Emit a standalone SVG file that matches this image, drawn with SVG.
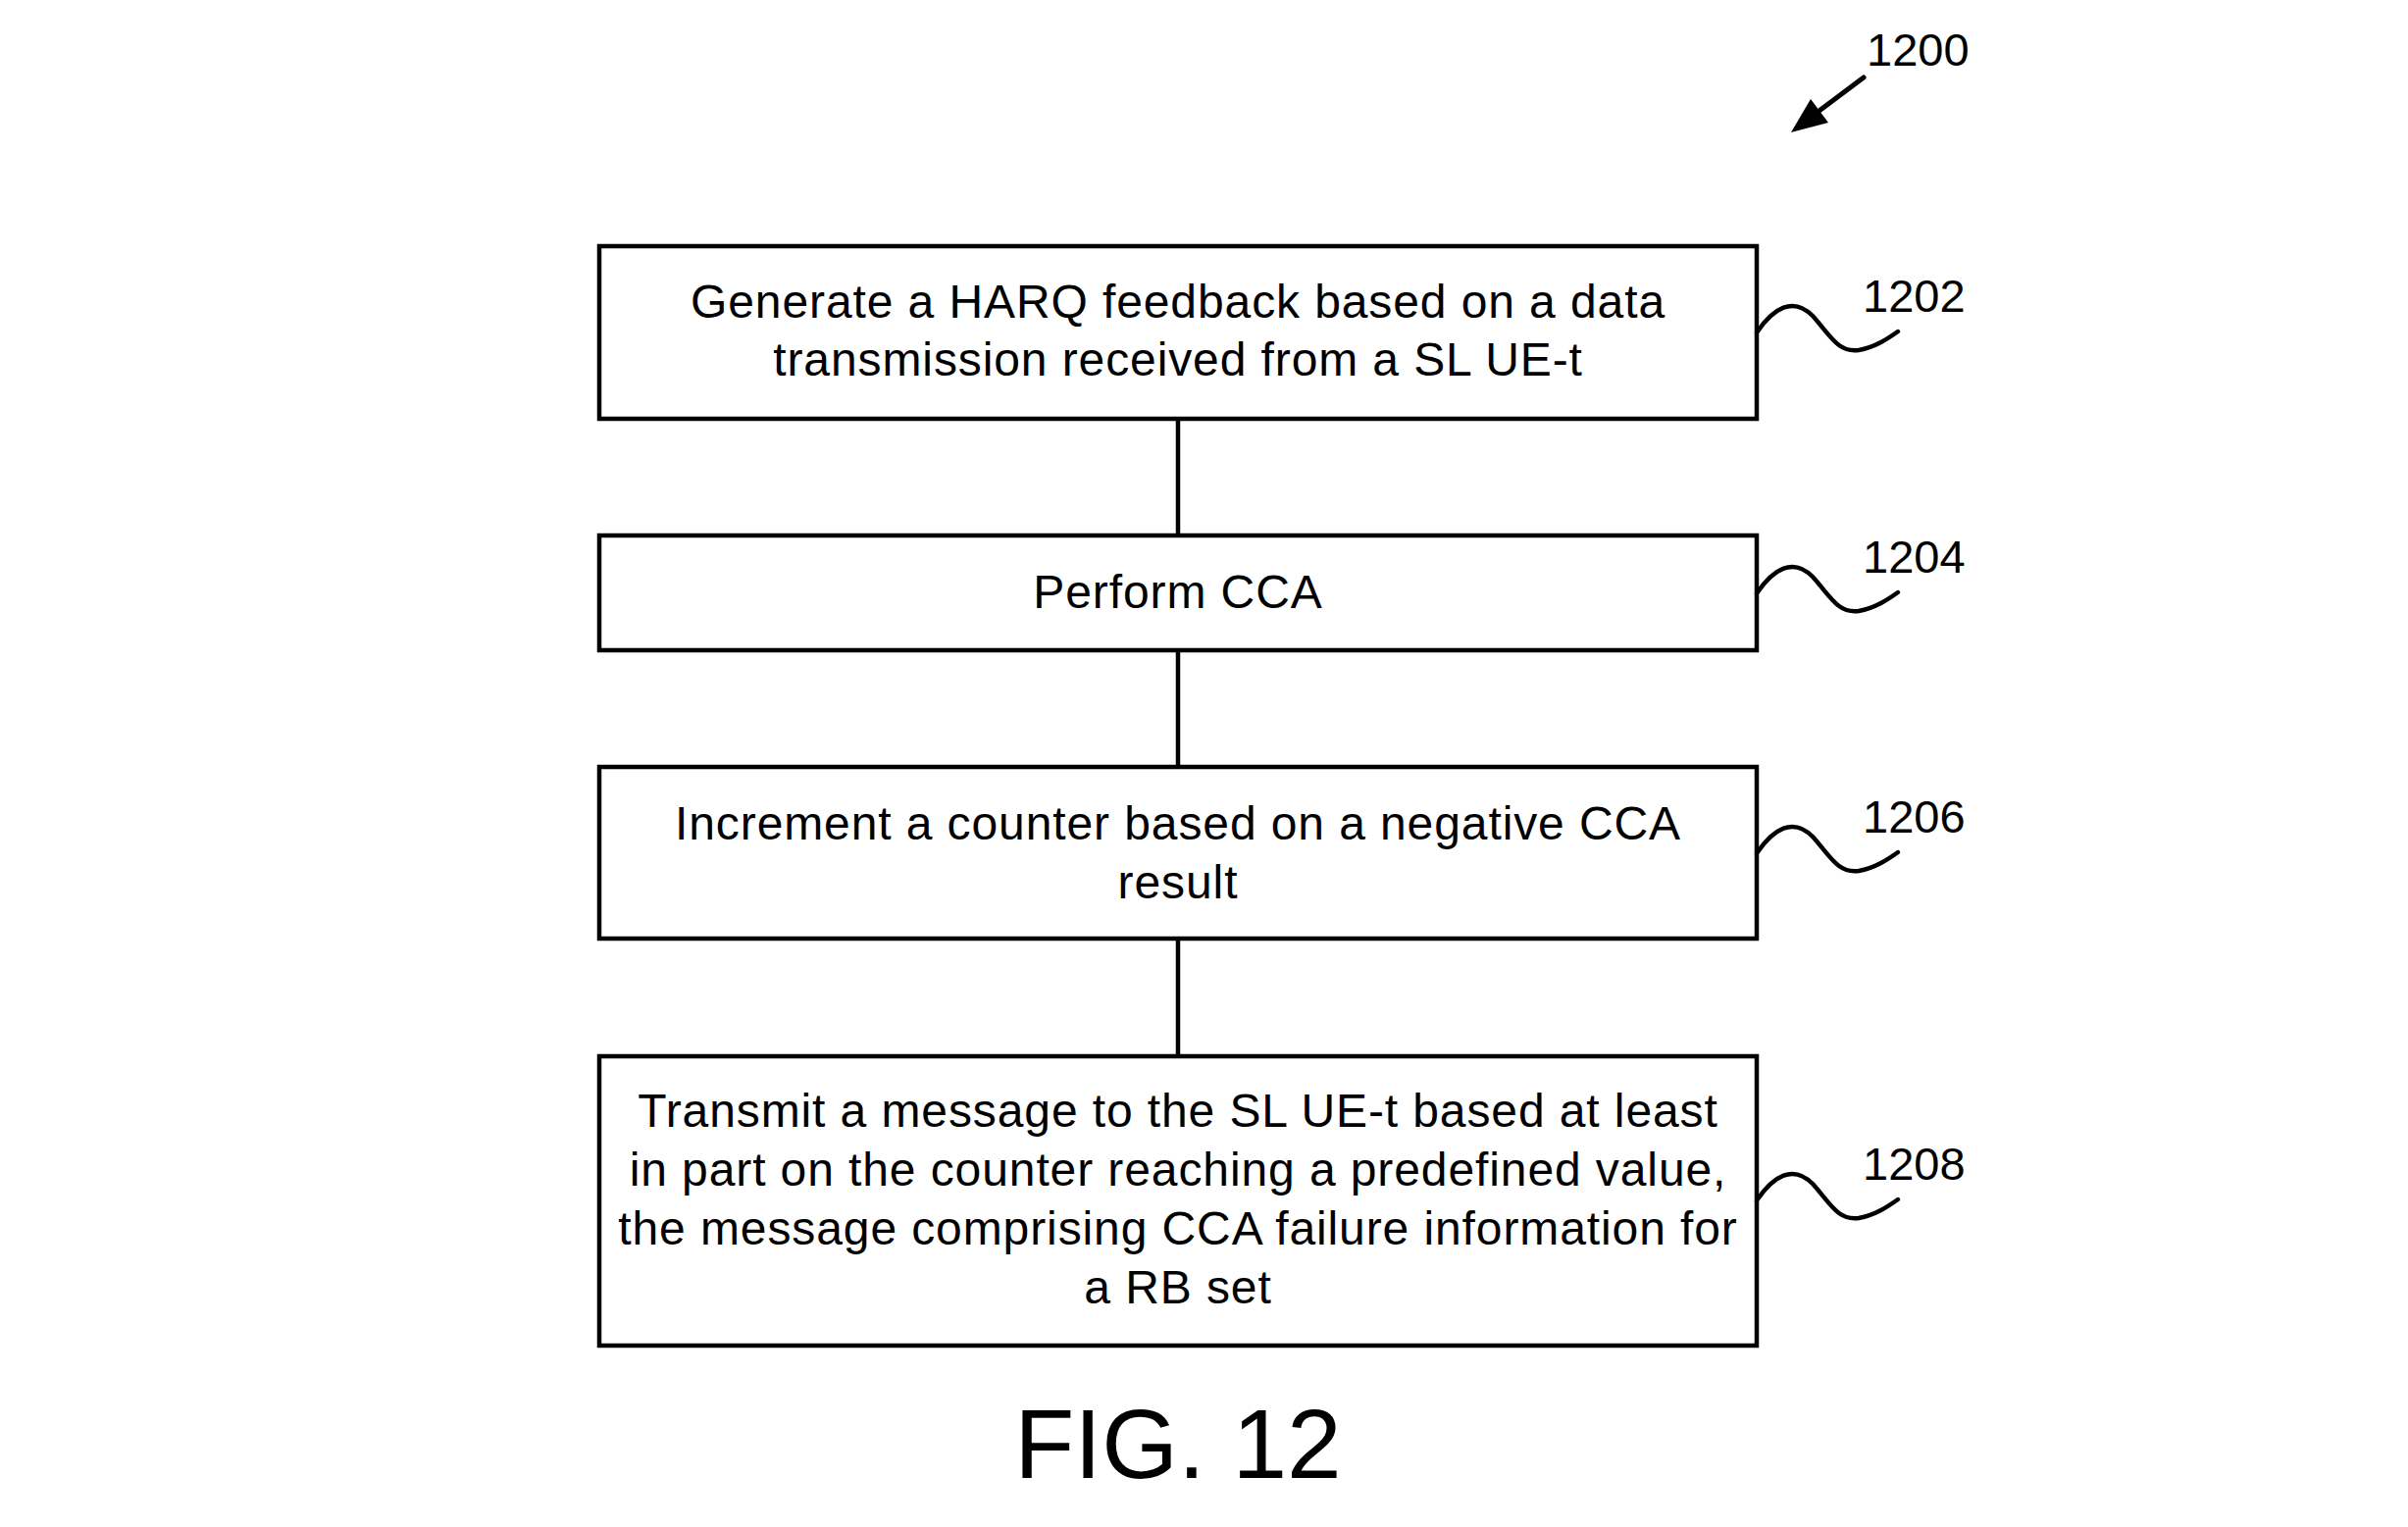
<svg xmlns="http://www.w3.org/2000/svg" width="2455" height="1557" viewBox="0 0 2455 1557">
<style>
.box{fill:#fff;stroke:#000;stroke-width:4.5}
.t{font-family:"Liberation Sans",Arial,sans-serif;font-size:48px;letter-spacing:0.9px;fill:#000;text-anchor:middle}
.ref{font-family:"Liberation Sans",Arial,sans-serif;font-size:47px;fill:#000}
.sq{fill:none;stroke:#000;stroke-width:4.5;stroke-linecap:round}
.conn{stroke:#000;stroke-width:4.5}
</style>
<rect width="2455" height="1557" fill="#fff"/>
<g id="label-1200">
<text class="ref" x="1903" y="67">1200</text>
<line x1="1900" y1="79" x2="1852" y2="115" stroke="#000" stroke-width="5" stroke-linecap="round"/>
<polygon points="1826,135 1864,125 1846,101" fill="#000"/>
</g>
<g id="connectors">
<line class="conn" x1="1201" y1="427" x2="1201" y2="546"/>
<line class="conn" x1="1201" y1="663" x2="1201" y2="782"/>
<line class="conn" x1="1201" y1="957" x2="1201" y2="1077"/>
</g>
<g id="node-1202">
<rect class="box" x="611" y="251" width="1180" height="176"/>
<text class="t" x="1201" y="324">Generate a HARQ feedback based on a data</text>
<text class="t" x="1201" y="383">transmission received from a SL UE-t</text>
<path class="sq" d="M1791,339 C1808,314 1828,302 1848,322 C1866,342 1874,360 1895,357 C1912,354 1925,345 1935,338"/>
<text class="ref" x="1899" y="318">1202</text>
</g>
<g id="node-1204">
<rect class="box" x="611" y="546" width="1180" height="117"/>
<text class="t" x="1201" y="620">Perform CCA</text>
<path class="sq" d="M1791,605 C1808,580 1828,568 1848,588 C1866,608 1874,626 1895,623 C1912,620 1925,611 1935,604"/>
<text class="ref" x="1899" y="584">1204</text>
</g>
<g id="node-1206">
<rect class="box" x="611" y="782" width="1180" height="175"/>
<text class="t" x="1201" y="856">Increment a counter based on a negative CCA</text>
<text class="t" x="1201" y="916">result</text>
<path class="sq" d="M1791,870 C1808,845 1828,833 1848,853 C1866,873 1874,891 1895,888 C1912,885 1925,876 1935,869"/>
<text class="ref" x="1899" y="849">1206</text>
</g>
<g id="node-1208">
<rect class="box" x="611" y="1077" width="1180" height="295"/>
<text class="t" x="1201" y="1149">Transmit a message to the SL UE-t based at least</text>
<text class="t" x="1201" y="1209">in part on the counter reaching a predefined value,</text>
<text class="t" x="1201" y="1269">the message comprising CCA failure information for</text>
<text class="t" x="1201" y="1329">a RB set</text>
<path class="sq" d="M1791,1224 C1808,1199 1828,1187 1848,1207 C1866,1227 1874,1245 1895,1242 C1912,1239 1925,1230 1935,1223"/>
<text class="ref" x="1899" y="1203">1208</text>
</g>
<text x="1201" y="1507" font-family="Liberation Sans,Arial,sans-serif" font-size="100" text-anchor="middle">FIG. 12</text>
</svg>
